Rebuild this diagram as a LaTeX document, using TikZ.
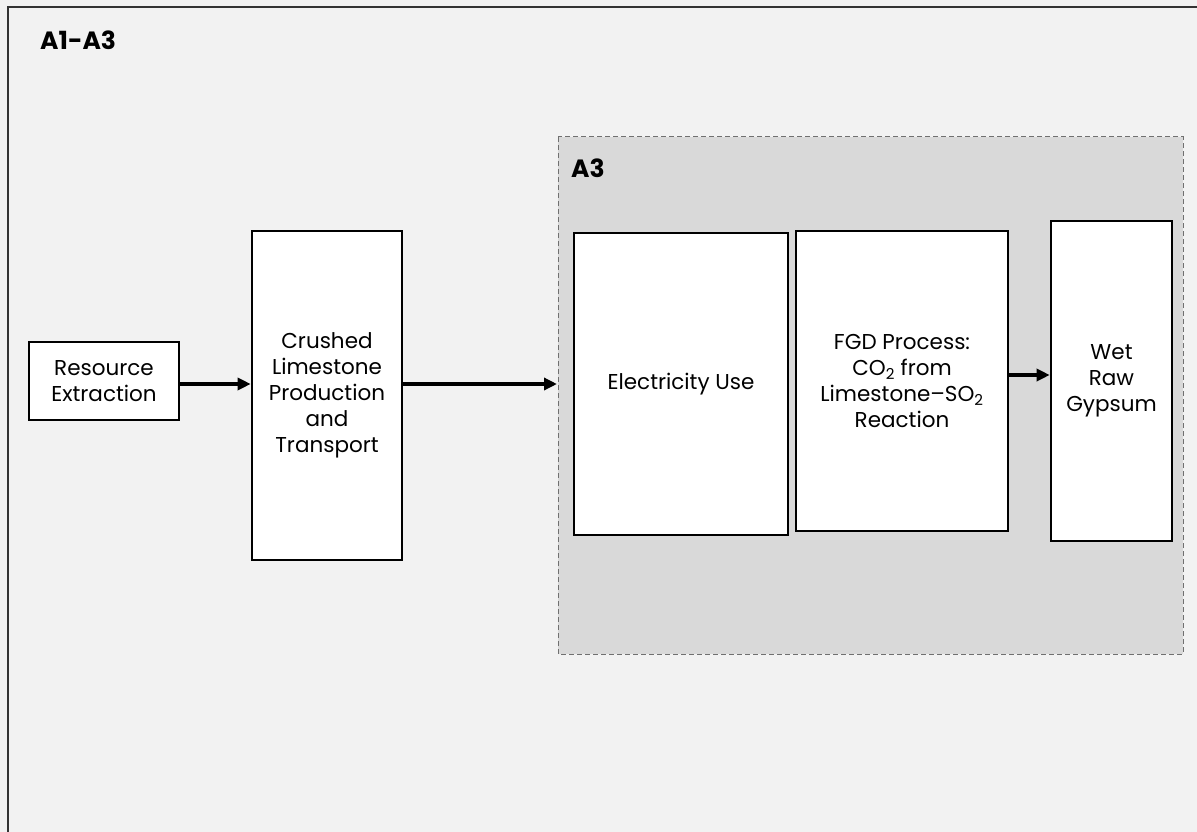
\documentclass[tikz,border=0pt]{standalone}
\usepackage{fontspec}
\setmainfont{Poppins}
\usepackage{tikz}
\usetikzlibrary{calc,arrows.meta,positioning}
\definecolor{pagebg}{HTML}{F2F2F2}
\definecolor{stagebg}{HTML}{D9D9D9}
\definecolor{rimgray}{HTML}{333333}
\definecolor{dashgray}{HTML}{707070}
\tikzset{procbox/.style={draw=black,line width=2.6pt,fill=white,align=center,inner sep=0pt,
    font=\fontsize{21.5}{26}\selectfont},
  flow/.style={line width=3.6pt,-{Triangle[length=13pt,width=12pt]}},
  stagelabel/.style={font=\fontsize{25}{30}\selectfont\bfseries,anchor=base west,inner sep=0pt}}

\begin{document}
\begin{tikzpicture}[x=1pt,y=-1pt]

% Page
\useasboundingbox (0,0) rectangle (1197,832);
\fill[pagebg] (0,0) rectangle (1197,832);
\draw[rimgray,line width=2pt] (7.5,840) -- (7.5,7.5) -- (1205,7.5);
\node[stagelabel] (a1a3) at (40,50) {A1-A3};

% Stage A3
\draw[dashgray,fill=stagebg,line width=1pt,dash pattern=on 5pt off 3pt] (558,137) rectangle (1183,654);
\node[stagelabel] (a3) at (571,178) {A3};

% Processes
\node[procbox,minimum width=150pt,minimum height=78pt] (res) at (104,381) {Resource\\Extraction};
\node[procbox,minimum width=150pt,minimum height=329pt] (crush) at (327,395.5) {Crushed\\Limestone\\Production\\and\\Transport};
\node[procbox,minimum width=214pt,minimum height=302pt] (elec) at (681,384) {Electricity Use};
\node[procbox,minimum width=212pt,minimum height=300pt] (fgd) at (902,381) {FGD Process:\\CO\textsubscript{2} from\\Limestone--SO\textsubscript{2}\\Reaction};
\node[procbox,minimum width=121pt,minimum height=320pt] (gyp) at (1111.5,381) {Wet\\Raw\\Gypsum};

% Flows
\coordinate (a3in) at (557,384);
\draw[flow] ([yshift=-3pt]res.east) -- ([yshift=-3pt]res.east -| crush.west);
\draw[flow] (crush.east |- a3in) -- (a3in);
\draw[flow] ([yshift=6pt]fgd.east) -- ([yshift=6pt]fgd.east -| gyp.west);

\end{tikzpicture}
\end{document}
